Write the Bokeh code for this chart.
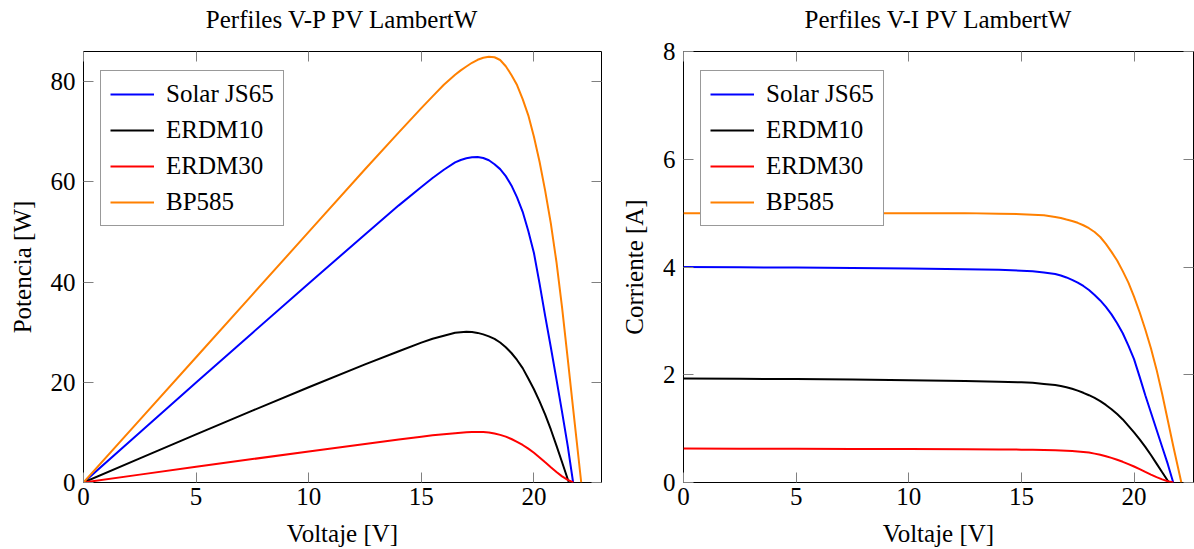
from bokeh.plotting import figure
from bokeh.models import Range1d, LinearAxis, FixedTicker, Legend, LegendItem
from bokeh.layouts import row
from bokeh.embed import file_html
from bokeh.resources import INLINE

# ---------------- data ----------------
series_names = ["Solar JS65", "ERDM10", "ERDM30", "BP585"]
series_colors = ["#0000ff", "#000000", "#ff0000", "#ff8000"]

# Solar JS65
v_js65 = [0, 2.5, 5, 7.5, 10, 12.5, 14, 15, 15.5, 16, 16.5, 16.75, 17, 17.25, 17.5, 17.75, 18,
          18.25, 18.5, 18.75, 19, 19.25, 19.5, 19.75, 20, 20.25, 20.5, 20.75, 21, 21.25, 21.5, 21.74]
i_js65 = [4.00, 3.995, 3.99, 3.98, 3.97, 3.96, 3.95, 3.93, 3.92, 3.90, 3.87, 3.842, 3.806, 3.762,
          3.711, 3.648, 3.572, 3.48, 3.38, 3.26, 3.12, 2.955, 2.77, 2.54, 2.29, 1.96, 1.62, 1.30,
          0.98, 0.66, 0.34, 0.0]
p_js65 = [0, 9.99, 19.95, 29.85, 39.7, 49.5, 55.3, 58.95, 60.76, 62.4, 63.86, 64.35, 64.7, 64.9,
          64.95, 64.75, 64.3, 63.51, 62.53, 61.13, 59.28, 56.88, 54.02, 50.17, 45.8, 39.69, 33.21,
          26.98, 20.58, 14.03, 7.31, 0]

# ERDM10
v_erdm10 = [0, 2.5, 5, 7.5, 10, 12.5, 14, 15, 15.5, 16, 16.5, 16.75, 17, 17.25, 17.5, 17.75, 18,
            18.25, 18.5, 18.75, 19, 19.25, 19.5, 19.75, 20, 20.25, 20.5, 20.75, 21, 21.25, 21.55]
i_erdm10 = [1.93, 1.925, 1.92, 1.91, 1.90, 1.885, 1.87, 1.86, 1.85, 1.83, 1.81, 1.79, 1.769, 1.74,
            1.706, 1.665, 1.62, 1.57, 1.51, 1.44, 1.36, 1.27, 1.17, 1.05, 0.93, 0.80, 0.66, 0.51,
            0.35, 0.19, 0.0]
p_erdm10 = [0, 4.81, 9.6, 14.33, 19.0, 23.56, 26.18, 27.9, 28.68, 29.28, 29.87, 29.98, 30.07,
            30.02, 29.85, 29.55, 29.16, 28.65, 27.94, 27.0, 25.84, 24.45, 22.82, 20.74, 18.6, 16.2,
            13.53, 10.58, 7.35, 4.04, 0]

# ERDM30
v_erdm30 = [0, 2.5, 5, 7.5, 10, 12.5, 14, 15, 15.5, 16, 16.5, 16.75, 17, 17.25, 17.5, 17.75, 18,
            18.25, 18.5, 18.75, 19, 19.25, 19.5, 19.75, 20, 20.25, 20.5, 20.75, 21, 21.25, 21.5, 21.75]
i_erdm30 = [0.63, 0.628, 0.625, 0.622, 0.62, 0.615, 0.612, 0.61, 0.607, 0.603, 0.597, 0.594, 0.59,
            0.585, 0.577, 0.567, 0.555, 0.536, 0.5135, 0.488, 0.457, 0.422, 0.384, 0.342, 0.297,
            0.247, 0.196, 0.147, 0.10, 0.058, 0.024, 0.0]
p_erdm30 = [0, 1.57, 3.13, 4.67, 6.2, 7.69, 8.57, 9.15, 9.41, 9.65, 9.85, 9.95, 10.03, 10.09, 10.1,
            10.06, 9.99, 9.78, 9.5, 9.15, 8.68, 8.12, 7.49, 6.75, 5.94, 5.0, 4.02, 3.05, 2.1, 1.23,
            0.52, 0]

# BP585
v_bp585 = [0, 2.5, 5, 7.5, 10, 12.5, 14, 15, 15.5, 16, 16.5, 16.75, 17, 17.25, 17.5, 17.75, 18,
           18.25, 18.5, 18.75, 19, 19.25, 19.5, 19.75, 20, 20.25, 20.5, 20.75, 21, 21.25, 21.5,
           21.75, 22.1]
i_bp585 = [5.00, 5.00, 5.00, 5.00, 5.00, 5.00, 4.99, 4.98, 4.97, 4.96, 4.93, 4.91, 4.882, 4.855,
           4.82, 4.775, 4.72, 4.65, 4.557, 4.43, 4.28, 4.12, 3.923, 3.71, 3.45, 3.16, 2.839, 2.492,
           2.095, 1.642, 1.15, 0.66, 0.0]
p_bp585 = [0, 12.5, 25.0, 37.5, 50.0, 62.5, 69.86, 74.7, 77.04, 79.36, 81.35, 82.24, 83.0, 83.75,
           84.35, 84.75, 84.95, 84.85, 84.3, 83.06, 81.32, 79.31, 76.5, 73.27, 69.0, 63.99, 58.2,
           51.7, 44.0, 34.9, 24.73, 14.36, 0]

x_ticks = [0, 5, 10, 15, 20]
p_ticks = [0, 20, 40, 60, 80]
i_ticks = [0, 2, 4, 6, 8]

volts = [v_js65, v_erdm10, v_erdm30, v_bp585]
powers = [p_js65, p_erdm10, p_erdm30, p_bp585]
currents = [i_js65, i_erdm10, i_erdm30, i_bp585]

FONT = "Liberation Serif"
FS = "25px"
TICK_GRAY = "#808080"


def style_axis(ax, ticks, show_labels=True):
    ax.ticker = FixedTicker(ticks=ticks)
    ax.minor_tick_line_color = None
    ax.major_tick_in = 10
    ax.major_tick_out = 0
    ax.major_tick_line_color = TICK_GRAY
    ax.major_tick_line_width = 1
    ax.axis_line_color = None
    ax.major_label_text_font = FONT
    ax.major_label_text_color = "black"
    if show_labels:
        ax.major_label_text_font_size = FS
    else:
        ax.major_label_text_font_size = "0px"
        ax.major_label_standoff = 0


def label_style(ax):
    ax.axis_label_text_font = FONT
    ax.axis_label_text_font_size = FS
    ax.axis_label_text_font_style = "normal"
    ax.axis_label_text_color = "black"


def make_fig(title, ylabel, yticks, xr, yr, width, bl, br, xs, ys):
    p = figure(width=width, height=549, output_backend="svg", toolbar_location=None,
               x_range=Range1d(*xr), y_range=Range1d(*yr),
               min_border_left=bl, min_border_right=br, min_border_top=51, min_border_bottom=67)
    p.grid.visible = False
    p.outline_line_color = "black"
    p.outline_line_width = 1
    p.background_fill_color = "white"
    p.border_fill_color = "white"

    style_axis(p.xaxis[0], x_ticks)
    style_axis(p.yaxis[0], yticks)
    p.xaxis[0].axis_label = "Voltaje [V]"
    p.yaxis[0].axis_label = ylabel
    label_style(p.xaxis[0])
    label_style(p.yaxis[0])
    p.xaxis[0].major_label_standoff = 5
    p.xaxis[0].axis_label_standoff = 12
    p.yaxis[0].major_label_standoff = 8
    p.yaxis[0].axis_label_standoff = 12

    # top axis: ticks only, carries the chart title as its label
    top = LinearAxis()
    style_axis(top, x_ticks, show_labels=False)
    top.axis_label = title
    label_style(top)
    top.axis_label_standoff = 19
    p.add_layout(top, "above")
    right = LinearAxis()
    style_axis(right, yticks, show_labels=False)
    p.add_layout(right, "right")

    items = []
    for name, col, x, y in zip(series_names, series_colors, xs, ys):
        r = p.line(x, y, line_color=col, line_width=2)
        items.append(LegendItem(label=name, renderers=[r]))
    leg = Legend(items=items, location=(17, 256), margin=0,
                 label_text_font=FONT, label_text_font_size=FS, label_text_color="black",
                 glyph_width=44, glyph_height=28, label_height=28, label_width=108,
                 label_standoff=12, spacing=8, padding=9,
                 border_line_color="#333333", border_line_width=1,
                 background_fill_color="white", background_fill_alpha=1)
    p.add_layout(leg)
    return p


p1 = make_fig("Perfiles V-P PV LambertW", "Potencia [W]", p_ticks, (0, 23), (0, 86),
              611, 83, 10, volts, powers)
p2 = make_fig("Perfiles V-I PV LambertW", "Corriente [A]", i_ticks, (0, 22.64), (0, 8),
              583, 72, 1, volts, currents)

layout = row(p1, p2)
open("out.html", "w").write(file_html(layout, INLINE))
